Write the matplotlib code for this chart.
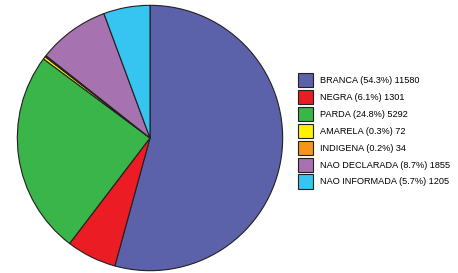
import matplotlib
matplotlib.use("Agg")
import matplotlib.pyplot as plt
import matplotlib.patches as mpatches

plt.rcParams['font.family'] = ['Liberation Sans', 'DejaVu Sans']

categories = ['BRANCA', 'NEGRA', 'PARDA', 'AMARELA', 'INDIGENA', 'NAO DECLARADA', 'NAO INFORMADA']
values = [11580, 1301, 5292, 72, 34, 1855, 1205]
percents = ['54.3', '6.1', '24.8', '0.3', '0.2', '8.7', '5.7']
colors = ['#5B62AA', '#EC1C24', '#39B54A', '#FFF200', '#F7941D', '#A672B0', '#36C5F0']

W, H = 458, 273
fig = plt.figure(figsize=(W / 100, H / 100), dpi=100)
cx, cy, r = 150, 138, 134
ax = fig.add_axes([(cx - r) / W, (H - cy - r) / H, 2 * r / W, 2 * r / H])
ax.pie(values, colors=colors, startangle=90, counterclock=False, radius=1,
       wedgeprops=dict(edgecolor='#231F20', linewidth=0.8))
ax.set_xlim(-1.01, 1.01)
ax.set_ylim(-1.01, 1.01)
ax.set_aspect('equal')
ax.axis('off')

labels = ['%s (%s%%) %d' % (c, p, v) for c, p, v in zip(categories, percents, values)]
handles = [mpatches.Patch(facecolor=col, edgecolor='#231F20', linewidth=0.8) for col in colors]
fig.legend(handles, labels, loc='upper left', bbox_to_anchor=(298 / W, 1 - 73 / H),
           frameon=False, fontsize=6.6, borderpad=0, borderaxespad=0,
           handlelength=1.6, handleheight=2.0, handletextpad=0.8, labelspacing=0.3)

fig.savefig('out.png', dpi=100)
